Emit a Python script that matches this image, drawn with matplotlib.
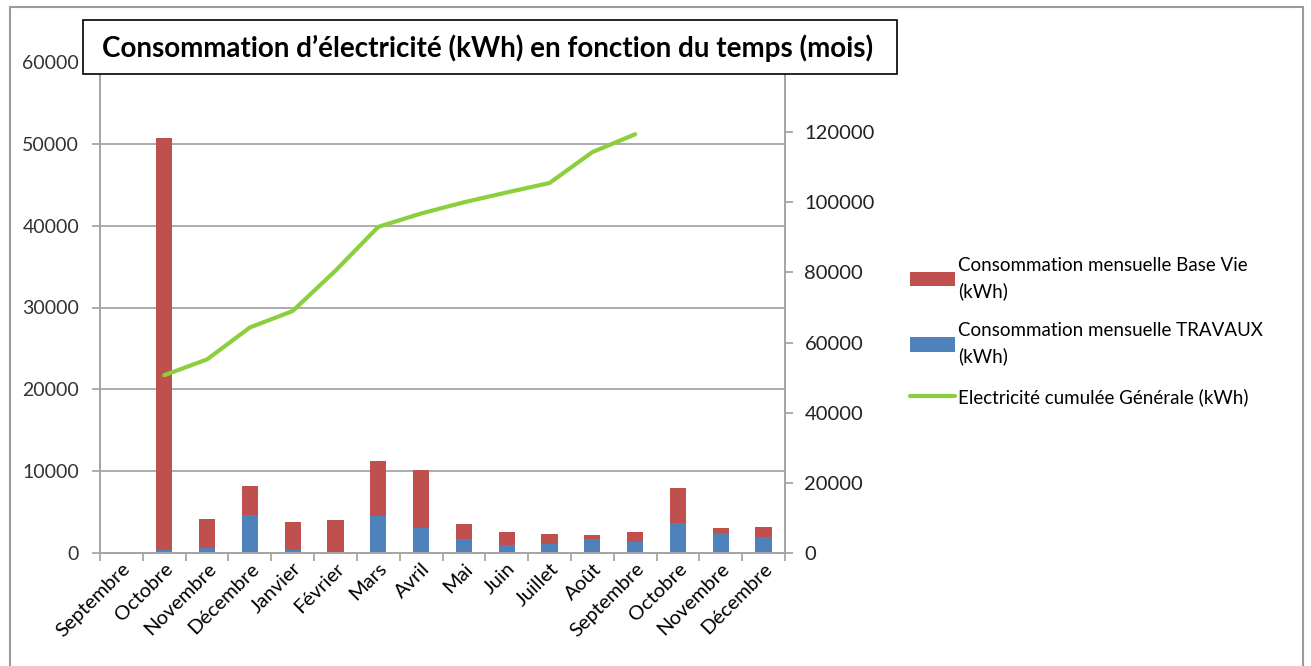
import numpy as np
import matplotlib
matplotlib.use("Agg")
import matplotlib.pyplot as plt
from matplotlib.patches import Rectangle

plt.rcParams['font.family'] = ['Lato', 'DejaVu Sans']

months = ["Septembre", "Octobre", "Novembre", "Décembre", "Janvier", "Février",
          "Mars", "Avril", "Mai", "Juin", "Juillet", "Août", "Septembre",
          "Octobre", "Novembre", "Décembre"]
travaux = [0, 400, 650, 4650, 370, 0, 4560, 3100, 1670, 1020, 1140, 1670,
           1390, 3630, 2440, 1920]
base_vie = [0, 50300, 3470, 3500, 3380, 4000, 6720, 7050, 1910, 1550, 1140,
            490, 1180, 4270, 660, 1300]
cumul = [np.nan, 50700, 55200, 64300, 69000, 80500, 93000, 96800, 100000,
         102800, 105500, 114300, 119400, np.nan, np.nan, np.nan]

red = "#C0504D"
blue = "#4F81BD"
green = "#8CCF3E"
grey = "#A6A6A6"

fig = plt.figure(figsize=(13.11, 6.66), dpi=100)
ax = fig.add_axes([100/1311, 1-553/666, 685/1311, 491/666])
ax2 = ax.twinx()

x = np.arange(len(months))
ax.bar(x, travaux, width=0.38, color=blue, zorder=3, label="Consommation mensuelle TRAVAUX\n(kWh)")
ax.bar(x, base_vie, width=0.38, bottom=travaux, color=red, zorder=3,
       label="Consommation mensuelle Base Vie\n(kWh)")
ax2.plot(x, cumul, color=green, lw=3, solid_joinstyle='round', solid_capstyle='round',
         label="Electricité cumulée Générale (kWh)")

ax.set_xlim(-0.5, len(months) - 0.5)
ax.set_ylim(0, 60000)
ax.set_yticks(range(0, 60001, 10000))
ax2.set_ylim(0, 140000)
ax2.set_yticks(range(0, 120001, 20000))

ax.yaxis.grid(True, color=grey, lw=1.3, zorder=0)
ax.set_axisbelow(True)

ax.set_xticks(x)
ax.set_xticklabels(months, rotation=45, ha='right', rotation_mode='anchor', fontsize=14.5)
ax.set_xticks(np.arange(-0.5, len(months)), minor=True)
ax.tick_params(axis='x', which='major', length=0, pad=5)
ax.tick_params(axis='x', which='minor', length=6, color=grey, width=1.3)
ax.tick_params(axis='y', length=6, color=grey, width=1.3, labelsize=14, pad=9, labelcolor="#333333")
ax2.tick_params(axis='y', length=6, color=grey, width=1.3, labelsize=14.5, pad=8, labelcolor="#222222")

for a in (ax, ax2):
    a.spines['top'].set_visible(False)
    for s in ('left', 'right', 'bottom'):
        a.spines[s].set_color(grey)
        a.spines[s].set_linewidth(1.3)

h1, l1 = ax.get_legend_handles_labels()
h2, l2 = ax2.get_legend_handles_labels()
leg = fig.legend([h1[1], h1[0], h2[0]], [l1[1], l1[0], l2[0]],
                 loc='upper left', bbox_to_anchor=(893/1311, 1-240/666),
                 frameon=False, fontsize=13.5, handlelength=2.4, handleheight=0.8,
                 handletextpad=0.15, labelspacing=1.2)
for t in leg.get_texts():
    t.set_linespacing(1.55)

# outer frame of the chart
fig.patches.append(Rectangle((10/1311, -0.1), 1293/1311, 1.1 - 7/666,
                             transform=fig.transFigure, fill=False,
                             edgecolor="#9A9A9A", lw=1.5))

# title box
fig.patches.append(Rectangle((83/1311, 1-74/666), 814/1311, 54/666,
                             transform=fig.transFigure, facecolor='white',
                             edgecolor='black', lw=1.2, zorder=5))
fig.text(488/1311, 1-48/666, "Consommation d’électricité (kWh) en fonction du temps (mois)",
         ha='center', va='center', fontsize=20, fontweight='bold', zorder=6)

fig.savefig("out.png", dpi=100)
